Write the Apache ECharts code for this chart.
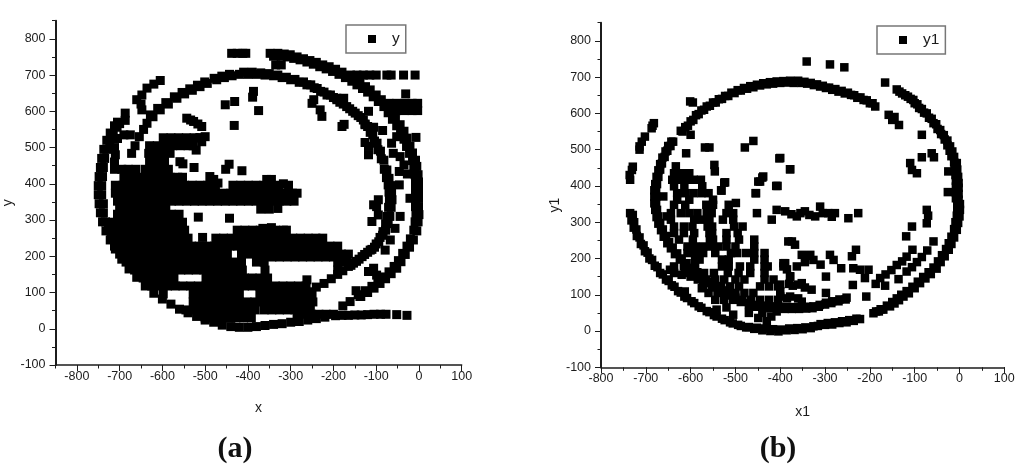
<!DOCTYPE html>
<html><head><meta charset="utf-8"><style>html,body{margin:0;padding:0;background:#fff}#c{width:1024px;height:474px}</style>
<script src="https://cdn.jsdelivr.net/npm/echarts@6/dist/echarts.min.js"></script></head><body><div id="c"></div>
<script>
const xTicksA=[-800,-700,-600,-500,-400,-300,-200,-100,0,100];
const yTicks=[-100,0,100,200,300,400,500,600,700,800];
const aOuterRing=[[-348,760],[-330,760],[-315,758],[-301,756],[-285,750],[-270,745],[-255,740],[-240,735],[-225,728],[-210,723],[-195,716],[-180,708],[-165,698],[-150,688],[-138,678],[-125,668],[-114,659],[-100,645],[-88,632],[-75,618],[-65,600],[-55,582],[-44,563],[-35,545],[-28,525],[-21,503],[-15,485],[-8,465],[-5,448],[-2,425],[-1,405],[-1,383],[-1,360],[-1,337],[0,315],[-2,295],[-5,270],[-13,245],[-22,225],[-32,205],[-42,185],[-52,167],[-65,152],[-78,138],[-91,125],[-105,112],[-120,100],[-138,89],[-200,40],[-220,32],[-240,28],[-260,24],[-280,20],[-300,18],[-320,14],[-340,12],[-360,9],[-380,6],[-400,4],[-420,4],[-440,6],[-460,10],[-480,18],[-500,24],[-520,34],[-540,44],[-560,54],[-580,68],[-600,82],[-620,98],[-640,118],[-660,142],[-678,165],[-695,192],[-710,220],[-722,245],[-732,270],[-740,295],[-745,320],[-748,345],[-750,370],[-750,395],[-748,420],[-745,445],[-742,470],[-737,495],[-730,520],[-722,540],[-712,560],[-705,570],[-687,595],[-687,575],[-660,632],[-648,604],[-650,620],[-648,645],[-636,664],[-620,675],[-605,685]];
const aOuterRing2=[[-340,752],[-322,752],[-308,750],[-293,746],[-278,742],[-262,736],[-247,730],[-232,723],[-217,717],[-202,710],[-187,702],[-172,693],[-157,683],[-145,673],[-132,663],[-120,653],[-107,640],[-95,627],[-82,613],[-72,596],[-62,578],[-52,560],[-43,543],[-35,523],[-29,503],[-22,484],[-15,464],[-12,447],[-9,425],[-8,405],[-8,383],[-8,360],[-8,337],[-7,315],[-9,295],[-12,272],[-20,248],[-28,228],[-38,208],[-48,188],[-58,172],[-70,157],[-83,143],[-96,130],[-110,117],[-125,105],[-142,94],[-742,370],[-742,395],[-740,420],[-738,445],[-735,470],[-730,495],[-723,518],[-715,538],[-706,556],[-700,566],[-738,345],[-738,320],[-733,295],[-726,272],[-716,248]];
const aInnerRing=[[-672,484],[-664,505],[-654,530],[-644,550],[-636,567],[-622,585],[-605,604],[-586,620],[-566,636],[-548,648],[-530,658],[-512,668],[-495,677],[-473,687],[-455,693],[-437,698],[-420,702],[-400,702],[-380,702],[-360,700],[-340,698],[-320,693],[-300,687],[-280,680],[-262,673],[-245,665],[-230,655],[-215,645],[-200,638],[-185,625],[-169,613],[-155,600],[-142,588],[-130,576],[-120,558],[-108,535],[-98,512],[-90,490],[-82,465],[-75,438],[-70,415],[-66,395],[-64,375],[-63,356],[-65,335],[-68,310],[-72,290],[-78,272],[-85,258],[-94,240],[-104,225],[-114,217],[-127,205],[-140,192],[-153,181],[-165,172],[-178,160],[-190,150],[-205,138],[-222,125],[-240,115],[-260,102],[-280,92],[-300,84],[-320,76]];
const aInnerRing2=[[-628,590],[-611,608],[-592,624],[-572,640],[-554,652],[-536,662],[-518,672],[-501,681],[-479,691],[-461,697],[-443,702],[-410,708],[-390,708],[-370,706],[-350,704],[-330,700],[-310,694],[-290,688],[-270,681],[-253,673],[-238,663],[-222,653],[-207,645],[-192,632],[-177,620],[-162,607],[-149,595],[-136,583],[-126,565],[-114,542],[-104,518],[-96,494],[-88,469],[-81,440],[-76,417],[-72,397],[-70,377],[-69,356],[-71,335],[-74,310],[-78,290],[-84,268],[-91,252],[-100,234],[-110,219],[-120,211],[-133,199],[-146,186],[-159,175]];
const aTopRight=[[-438,760],[-425,760],[-412,760],[-405,760],[-335,728],[-322,728],[-160,700],[-145,700],[-130,700],[-115,700],[-100,700],[-75,700],[-65,700],[-36,700],[-9,700],[-31,648],[-70,622],[-52,622],[-34,622],[-16,622],[-3,622],[-70,602],[-52,602],[-34,602],[-16,602],[-3,602],[-118,600],[-126,563],[-106,556],[-85,547],[-126,514],[-118,503],[-118,480],[-7,528],[-29,526],[-52,530],[-64,512],[-60,484],[-44,475],[-35,452],[-46,434],[-27,427],[-46,397],[-21,360],[-95,356],[-106,342],[-175,564],[-180,558],[-231,604],[-227,586],[-246,632],[-250,622],[-176,636],[-192,636],[-387,655],[-389,639],[-375,602],[-99,337],[-110,296],[-95,314],[-44,310],[-56,277],[-67,245],[-79,217],[-106,167],[-118,158],[-99,148],[-147,105],[-136,89],[-161,75],[-178,63]];
const aTail=[[-195,36],[-180,37],[-165,37],[-150,38],[-135,38],[-120,39],[-105,40],[-90,40],[-77,40],[-52,39],[-28,37]];
const aUpperScatter=[[-543,581],[-534,576],[-527,572],[-517,565],[-508,558],[-432,561],[-453,618],[-431,627],[-444,454],[-452,440],[-414,436],[-516,308],[-443,305],[-506,252],[-559,461],[-552,455],[-526,445],[-489,420],[-480,412],[-470,402],[-356,412],[-345,412],[-317,400],[-508,516],[-521,493],[-528,505],[-500,530],[-512,527],[-712,500],[-710,480],[-712,460],[-712,440],[-690,535],[-675,535],[-705,525],[-345,279],[-365,277],[-370,330],[-350,330],[-330,332],[-262,135]];
const aRow30=[-500,-482,-464,-446,-428,-410,-392].map(x=>[x,30]);
const aRow40=[-285,-268,-251,-234,-217].map(x=>[x,40]);
const aRow52=[-545,-527,-509,-491,-473,-455,-437,-419,-401,-383,-362,-344,-326,-308,-290,-272,-254].map(x=>[x,52]);
const aRow74=[-528,-510,-492,-474,-456,-438,-420,-402,-384,-366,-348,-330,-312,-294,-276,-258,-248].map(x=>[x,74]);
const aRow96=[-598,-528,-510,-492,-474,-456,-438,-420,-372,-354,-336,-318,-300,-282,-264,-250].map(x=>[x,96]);
const aRow118=[-625,-606,-588,-570,-552,-534,-516,-498,-480,-462,-444,-426,-408,-390,-372,-354,-336,-318,-300,-282,-264].map(x=>[x,118]);
const aRow140=[-645,-627,-609,-591,-573,-498,-480,-462,-444,-426,-408,-390,-372,-354].map(x=>[x,140]);
const aRow162=[-665,-647,-629,-611,-593,-575,-557,-539,-521,-503,-485,-467,-449,-431,-413,-360,-190].map(x=>[x,162]);
const aRow184=[-685,-667,-649,-631,-613,-595,-577,-559,-541,-523,-505,-487,-469,-451,-433,-415,-380,-362,-190,-175].map(x=>[x,184]);
const aRow198=[-344,-326,-308,-290,-272,-254,-236,-218,-200,-182,-168].map(x=>[x,198]);
const aRow206=[-700,-682,-664,-646,-628,-610,-592,-574,-556,-538,-520,-502,-484,-466,-448,-415,-397,-379,-361,-343,-325,-307,-289,-271,-253,-235,-217,-199,-181,-165].map(x=>[x,206]);
const aRow228=[-712,-694,-676,-658,-640,-622,-604,-586,-568,-550,-532,-514,-496,-478,-460,-442,-424,-406,-388,-370,-352,-334,-316,-298,-280,-262,-244,-226,-208,-190].map(x=>[x,228]);
const aRow250=[-720,-702,-684,-666,-648,-630,-612,-594,-576,-558,-540,-475,-457,-439,-421,-403,-385,-367,-349,-331,-313,-295,-277,-259,-241,-225].map(x=>[x,250]);
const aRow272=[-725,-707,-689,-671,-653,-635,-617,-599,-581,-563,-548,-425,-407,-389,-371,-353,-335,-317,-310].map(x=>[x,272]);
const aRow294=[-715,-697,-679,-661,-643,-625,-607,-589,-571,-553].map(x=>[x,294]);
const aRow316=[-705,-687,-669,-651,-633,-615,-597,-579,-561].map(x=>[x,316]);
const aRow338=[-700,-682,-664,-646,-628,-610,-592].map(x=>[x,338]);
const aRow352=[-705,-687,-669,-651,-633,-615,-597,-579,-561,-543,-525,-507,-489,-471,-453,-435,-417,-399,-381,-363,-345,-327,-309,-292].map(x=>[x,352]);
const aRow374=[-710,-692,-674,-656,-638,-620,-602,-584,-566,-548,-530,-512,-494,-476,-458,-440,-422,-404,-386,-368,-350,-332,-314,-296,-285].map(x=>[x,374]);
const aRow396=[-710,-692,-674,-656,-638,-620,-602,-584,-566,-548,-530,-512,-494,-476,-435,-417,-399,-381,-363,-345,-327,-305].map(x=>[x,396]);
const aRow418=[-690,-672,-654,-636,-618,-600,-582,-564,-553].map(x=>[x,418]);
const aRow440=[-695,-680,-662,-640,-622,-604,-586].map(x=>[x,440]);
const aRow462=[-630,-612,-595].map(x=>[x,462]);
const aRow484=[-632,-614,-596,-582].map(x=>[x,484]);
const aRow505=[-630,-612,-594,-576,-558,-540].map(x=>[x,505]);
const aRow527=[-598,-580,-562,-544,-526,-512].map(x=>[x,527]);

const bInnerRing=[[-188,619],[-200,628],[-214,637],[-228,643],[-242,651],[-256,655],[-270,660],[-284,665],[-298,670],[-311,674],[-325,678],[-340,682],[-352,684],[-360,690],[-370,684],[-386,685],[-400,684],[-416,682],[-430,680],[-445,677],[-460,672],[-474,668],[-488,663],[-502,656],[-516,648],[-530,640],[-544,630],[-557,621],[-570,610],[-582,598],[-594,582],[-606,566],[-618,550],[-639,522],[-645,510],[-652,497],[-658,480],[-664,462],[-668,445],[-672,425],[-675,405],[-677,388],[-677,370],[-677,352],[-675,334],[-672,316],[-668,298],[-662,280],[-655,262],[-648,245],[-640,230],[-630,214],[-620,200],[-609,187],[-597,174],[-585,162],[-572,148],[-558,136],[-544,124],[-530,112],[-516,103],[-500,92],[-485,84],[-468,77],[-452,72],[-436,70],[-420,68],[-404,67],[-388,66],[-372,66],[-356,66],[-340,67],[-326,68],[-312,72],[-298,78],[-284,82],[-268,87],[-252,92]];
const bInnerRing2=[[-194,628],[-207,636],[-221,644],[-235,650],[-249,657],[-263,662],[-277,667],[-291,671],[-305,676],[-318,680],[-332,684],[-346,687],[-378,690],[-393,689],[-408,688],[-423,686],[-438,683],[-452,679],[-467,675],[-481,670],[-495,664],[-509,657],[-523,648],[-537,639],[-550,630],[-564,619],[-576,608],[-588,595],[-600,578],[-612,562],[-622,552],[-643,522],[-650,510],[-656,495],[-663,478],[-668,460],[-672,443],[-676,425],[-679,405],[-681,388],[-681,370],[-681,352],[-679,334],[-676,314],[-672,296],[-666,278],[-660,260],[-652,242],[-644,228],[-635,212],[-624,197],[-612,183],[-600,170],[-588,158],[-575,145],[-561,132],[-547,120],[-533,108],[-518,98],[-503,88],[-488,80],[-470,72],[-454,67],[-438,65],[-422,63],[-406,62],[-390,61],[-374,61],[-358,61],[-342,62],[-328,63],[-314,67],[-300,73],[-286,77],[-270,82],[-254,87]];
const bOuterRing=[[-735,417],[-736,430],[-731,444],[-729,453],[-714,500],[-714,509],[-709,522],[-702,536],[-687,559],[-685,566],[-682,573],[-735,325],[-732,305],[-727,285],[-720,262],[-711,240],[-702,220],[-692,200],[-680,180],[-668,160],[-655,142],[-642,126],[-628,110],[-614,95],[-598,82],[-582,68],[-564,55],[-548,44],[-530,34],[-512,24],[-494,17],[-476,10],[-458,6],[-440,2],[-422,0],[-404,-1],[-386,2],[-368,3],[-350,5],[-332,8],[-316,14],[-300,17],[-284,18],[-268,22],[-252,24],[-236,28],[-222,33],[-192,49],[-180,54],[-170,59],[-155,68],[-145,76],[-135,85],[-125,95],[-113,104],[-100,118],[-88,132],[-76,145],[-64,157],[-51,172],[-42,190],[-33,206],[-24,224],[-18,240],[-12,258],[-6,279],[-3,298],[0,316],[1,334],[1,350],[-2,362],[-2,378],[-2,395],[-2,408],[-3,425],[-5,445],[-6,463],[-12,480],[-16,495],[-21,509],[-27,525],[-35,540],[-43,554],[-52,570],[-62,585],[-73,600],[-84,612],[-94,625],[-103,637],[-115,646],[-128,655],[-140,666]];
const bOuterRing2=[[-729,320],[-726,300],[-721,280],[-714,258],[-705,236],[-696,216],[-686,196],[-674,176],[-662,156],[-649,138],[-636,122],[-622,106],[-608,91],[-592,77],[-576,64],[-558,52],[-542,40],[-524,30],[-506,21],[-488,14],[-470,11],[-452,9],[-434,7],[-416,5],[-398,4],[-380,7],[-362,8],[-344,10],[-326,13],[-310,19],[-294,22],[-278,24],[-262,27],[-246,30],[-230,34],[-186,54],[-176,60],[-162,70],[-150,80],[-140,90],[-130,100],[-118,110],[-105,122],[-93,136],[-81,149],[-69,162],[-58,175],[-48,192],[-39,209],[-30,226],[-24,242],[-18,260],[-12,281],[-9,300],[-6,318],[-5,336],[-5,352],[-8,366],[-8,382],[-8,398],[-8,414],[-9,430],[-11,448],[-12,465],[-18,482],[-22,497],[-27,512],[-33,528],[-41,543],[-49,557],[-58,573],[-68,588],[-79,602],[-90,615],[-100,628],[-109,640],[-121,650],[-134,660]];
const bRightScatter=[[-601,633],[-595,630],[-166,685],[-341,743],[-289,735],[-257,727],[-158,596],[-145,590],[-150,582],[-135,568],[-84,541],[-84,479],[-62,490],[-57,479],[-110,463],[-106,444],[-95,435],[-26,383],[-25,440],[-378,446],[-400,477],[-73,334],[-70,318],[-73,297],[-119,261],[-106,288],[-105,224],[-177,146],[-165,156],[-152,168],[-140,182],[-128,192],[-118,205],[-118,164],[-106,176],[-95,190],[-84,204],[-72,222],[-58,247],[-136,143],[-166,125],[-187,130],[-208,95],[-238,127]];
const bTopScatter=[[-600,541],[-610,490],[-568,506],[-558,506],[-479,506],[-460,524],[-402,476],[-378,446],[-547,458],[-546,440],[-440,423],[-449,412],[-406,400],[-455,380],[-525,409],[-531,387],[-633,454],[-523,410],[-532,388],[-499,353],[-454,380],[-445,412],[-438,426],[-452,325],[-419,307],[-408,334],[-409,400],[-661,371],[-653,316]];
const bMidStripe=[[-389,330],[-363,316],[-345,330],[-322,316],[-311,343],[-293,325],[-278,325],[-248,311],[-226,325],[-375,322],[-355,325],[-335,320],[-305,325],[-285,315],[-382,247],[-374,247],[-367,238],[-352,210],[-333,210],[-326,196],[-289,210],[-281,196],[-264,173],[-231,224],[-240,206],[-237,173],[-222,169],[-203,169],[-211,146],[-298,150],[-298,105],[-310,183],[-389,187],[-378,150],[-352,132],[-330,114],[-378,95],[-352,81],[-340,207],[-345,190],[-385,170],[-380,130],[-372,125],[-360,128],[-345,120],[-400,110],[-385,90],[-360,90],[-393,187],[-363,178],[-393,178],[-378,151],[-400,128],[-400,95]];
const bBottomBits=[[-613,109],[-575,118],[-646,169],[-620,155],[-600,150],[-542,59],[-505,45],[-449,36],[-430,27],[-408,54],[-440,50],[-420,40],[-470,50],[-520,65]];
const bRow435=[-637,-620,-603].map(x=>[x,435]);
const bRow417=[-641,-625,-609,-593,-577].map(x=>[x,417]);
const bRow399=[-637,-614,-574].map(x=>[x,399]);
const bRow380=[-630,-612,-594,-576,-560].map(x=>[x,380]);
const bRow362=[-630,-603,-550].map(x=>[x,362]);
const bRow348=[-637,-612,-565,-550,-515].map(x=>[x,348]);
const bRow325=[-644,-622,-603,-585,-564,-553,-520,-505].map(x=>[x,325]);
const bRow307=[-644,-592,-575,-558,-528,-505].map(x=>[x,307]);
const bRow288=[-637,-615,-596,-562,-552,-503,-484].map(x=>[x,288]);
const bRow270=[-637,-615,-592,-558,-552,-520,-495].map(x=>[x,270]);
const bRow252=[-626,-595,-557,-550,-520,-492,-458].map(x=>[x,252]);
const bRow233=[-607,-590,-572,-555,-538,-520,-500,-458].map(x=>[x,233]);
const bRow215=[-607,-590,-572,-545,-510,-497,-477,-458,-435].map(x=>[x,215]);
const bRow197=[-590,-580,-530,-515,-458,-435].map(x=>[x,197]);
const bRow178=[-637,-615,-590,-530,-515,-490,-467,-435,-428].map(x=>[x,178]);
const bRow160=[-637,-612,-570,-548,-517,-493,-467,-435].map(x=>[x,160]);
const bRow142=[-584,-565,-545,-525,-500,-480,-435,-415].map(x=>[x,142]);
const bRow123=[-572,-552,-532,-512,-492,-445,-425,-405].map(x=>[x,123]);
const bRow105=[-560,-540,-520,-500,-480,-460].map(x=>[x,105]);
const bRow86=[-545,-525,-505,-485,-465,-445,-425,-405].map(x=>[x,86]);

const dataA=[].concat(aOuterRing,aOuterRing2,aInnerRing,aInnerRing2,aTopRight,aTail,aUpperScatter,aRow30,aRow40,aRow52,aRow74,aRow96,aRow118,aRow140,aRow162,aRow184,aRow198,aRow206,aRow228,aRow250,aRow272,aRow294,aRow316,aRow338,aRow352,aRow374,aRow396,aRow418,aRow440,aRow462,aRow484,aRow505,aRow527);
const dataB=[].concat(bInnerRing,bInnerRing2,bOuterRing,bOuterRing2,bRightScatter,bTopScatter,bMidStripe,bBottomBits,bRow435,bRow417,bRow399,bRow380,bRow362,bRow348,bRow325,bRow307,bRow288,bRow270,bRow252,bRow233,bRow215,bRow197,bRow178,bRow160,bRow142,bRow123,bRow105,bRow86);

const ink='#1c1c1c';
const font='"Liberation Sans"';
function mainX(gi,min,name,gap){return{type:'value',gridIndex:gi,min:min,max:100,interval:50,position:'bottom',name:name,nameLocation:'middle',nameGap:gap,nameTextStyle:{fontFamily:font,fontSize:14,color:ink},
 axisLine:{onZero:false,lineStyle:{color:ink,width:1.5}},splitLine:{show:false},
 axisTick:{length:6,customValues:xTicksA,lineStyle:{color:ink,width:1}},
 axisLabel:{fontFamily:font,fontSize:12.5,color:ink,margin:5,customValues:xTicksA,formatter:v=>String(v)}};}
function minorX(gi,min){return{type:'value',gridIndex:gi,min:min,max:100,interval:50,position:'bottom',axisLine:{show:false,onZero:false},splitLine:{show:false},axisLabel:{show:false},axisTick:{length:3.5,lineStyle:{color:ink,width:1}}};}
function mainY(gi,name,gap){return{type:'value',gridIndex:gi,min:-100,max:850,interval:50,position:'left',name:name,nameLocation:'middle',nameGap:gap,nameTextStyle:{fontFamily:font,fontSize:14,color:ink,padding:[0,20,0,0]},
 axisLine:{onZero:false,lineStyle:{color:ink,width:2}},splitLine:{show:false},
 axisTick:{length:6,customValues:yTicks,lineStyle:{color:ink,width:1}},
 axisLabel:{fontFamily:font,fontSize:12.5,color:ink,margin:10,customValues:yTicks,formatter:v=>String(v)}};}
function minorY(gi){return{type:'value',gridIndex:gi,min:-100,max:850,interval:50,position:'left',axisLine:{show:false,onZero:false},splitLine:{show:false},axisLabel:{show:false},axisTick:{length:3.5,lineStyle:{color:ink,width:1}}};}
function caption(letter,cx){return{text:'{p|(}{b|'+letter+'}{p|)}',left:cx,top:429,textAlign:'center',textStyle:{rich:{p:{fontFamily:'"Liberation Serif"',fontSize:30,color:'#111'},b:{fontFamily:'"Liberation Serif"',fontSize:30,fontWeight:'bold',color:'#111'}}}};}
function legend(name,left,top,right){return{data:[name],left:left,top:top,orient:'horizontal',icon:'rect',itemWidth:8,itemHeight:8,borderColor:'#777',borderWidth:1.5,borderRadius:0,padding:[6,right,6,22],textStyle:{fontFamily:font,fontSize:15.5,color:ink,padding:[0,0,0,11]}};}
const chart=echarts.init(document.getElementById('c'),null,{renderer:'canvas'});
chart.setOption({animation:false,backgroundColor:'#fff',
 title:[caption('a',230),caption('b',773)],
 legend:[legend('y',346,25,6),legend('y1',877,26,6)],
 grid:[{left:55.5,top:20.7,width:406.2,height:344.3},{left:601,top:22.7,width:403.3,height:344.6}],
 xAxis:[mainX(0,-850,'x',36),mainX(1,-800,'x1',38),minorX(0,-850),minorX(1,-800)],
 yAxis:[mainY(0,'y',40),mainY(1,'y1',38),minorY(0),minorY(1)],
 series:[
  {name:'y',type:'scatter',xAxisIndex:0,yAxisIndex:0,symbol:'rect',symbolSize:9,itemStyle:{color:'#000',opacity:1},data:dataA},
  {name:'y1',type:'scatter',xAxisIndex:1,yAxisIndex:1,symbol:'rect',symbolSize:8.5,itemStyle:{color:'#000',opacity:1},data:dataB}
 ]});
</script></body></html>
